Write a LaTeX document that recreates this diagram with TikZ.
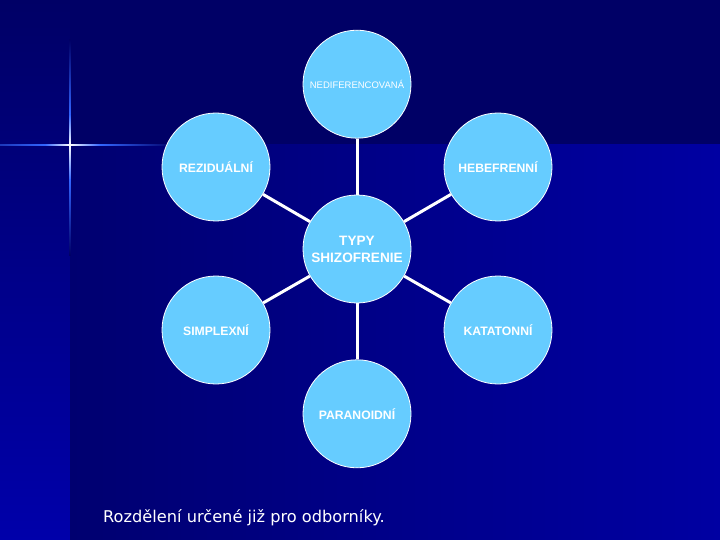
\documentclass[tikz,border=0pt]{standalone}
\usepackage{fontspec}
\setmainfont{Liberation Sans}
\newfontfamily\notefont{DejaVu Sans}
\usepackage{xcolor}
\definecolor{SlideNavy}{HTML}{000066}
\definecolor{SlideMid}{HTML}{000070}
\definecolor{SlideBlue}{HTML}{0000A2}
\definecolor{StripBottom}{HTML}{0000AA}
\definecolor{GlowBlue}{HTML}{3366FF}
\definecolor{TypFill}{HTML}{66CCFF}
\usetikzlibrary{positioning, calc}

\begin{document}
\begin{tikzpicture}[
  x=1pt, y=-1pt,
  node distance=56pt,
  typcircle/.style={
    circle,
    draw=white,
    line width=0.8pt,
    fill=TypFill,
    text=white,
    minimum size=108pt,
    inner sep=0pt,
    align=center,
    font=\fontsize{12.2}{14}\selectfont\bfseries},
  spoke/.style={
    draw=white,
    line width=3pt},
]

% background
\useasboundingbox (0,0) rectangle (720,540);
\fill[SlideNavy] (0,0) rectangle (720,540);
\shade[top color=SlideNavy, bottom color=StripBottom] (0,0) rectangle (70,540);
\shade[left color=SlideMid, right color=SlideBlue] (70,145) rectangle (720,540);

% sparkle
\shade[left color=GlowBlue!55!SlideNavy, right color=GlowBlue]
  (0,144.2) rectangle (45,145.8);
\shade[left color=GlowBlue, right color=white]
  (45,144.2) rectangle (70,145.8);
\shade[left color=white, right color=GlowBlue]
  (70,144.2) rectangle (100,145.8);
\shade[left color=GlowBlue, right color=SlideNavy]
  (100,144.2) rectangle (175,145.8);
\shade[top color=SlideNavy, bottom color=GlowBlue]
  (69.2,40) rectangle (70.8,115);
\shade[top color=GlowBlue, bottom color=white]
  (69.2,115) rectangle (70.8,145);
\shade[top color=white, bottom color=GlowBlue]
  (69.2,145) rectangle (70.8,180);
\shade[top color=GlowBlue, bottom color=SlideNavy]
  (69.2,180) rectangle (70.8,255);

\node[typcircle, font=\fontsize{13.6}{17}\selectfont\bfseries] (typy) at (357,249)
  {TYPY\\SHIZOFRENIE};

\node[typcircle, font=\fontsize{9.5}{11}\selectfont, above=of typy] (nedif)
  {NEDIFERENCOVANÁ};
\node[typcircle, below=of typy] (paran)
  {PARANOIDNÍ};
\node[typcircle] (rezid) at ($(typy)+(-141,-82)$)
  {REZIDUÁLNÍ};
\node[typcircle] (hebef) at ($(typy)+(141,-82)$)
  {HEBEFRENNÍ};
\node[typcircle] (simpl) at ($(typy)+(-141,81)$)
  {SIMPLEXNÍ};
\node[typcircle] (katat) at ($(typy)+(141,81)$)
  {KATATONNÍ};

\foreach \outer in {nedif, paran, rezid, hebef, simpl, katat}
  \draw[spoke] (typy) -- (\outer);

\node[font=\notefont\fontsize{16.2}{19}\selectfont, text=white,
      anchor=base west, inner sep=0pt] (note) at (103,522)
  {Rozdělení určené již pro odborníky.};

\end{tikzpicture}
\end{document}
